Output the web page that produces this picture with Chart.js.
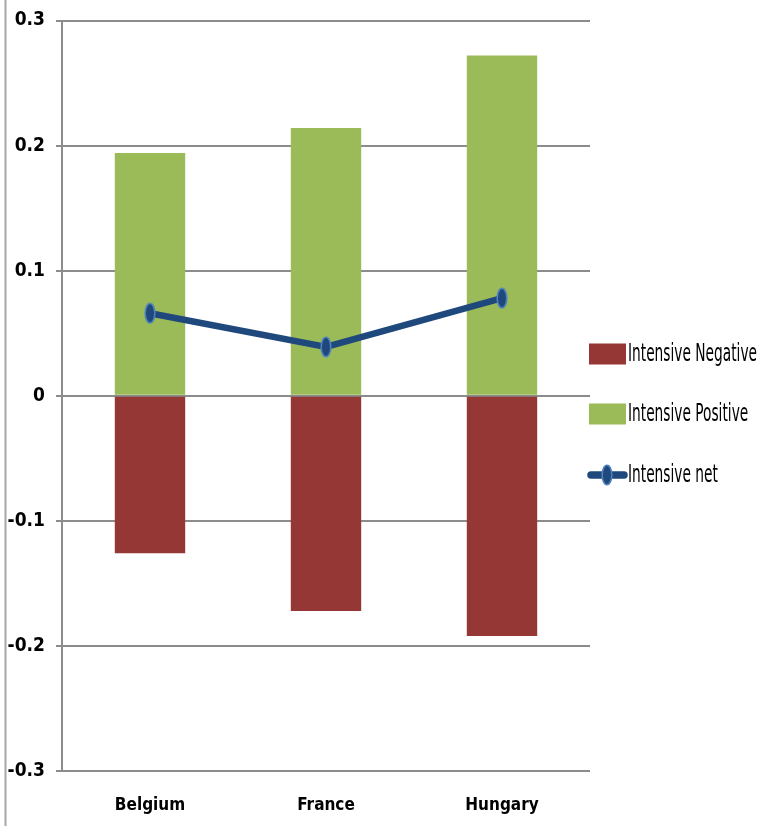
<!DOCTYPE html>
<html>
<head>
<meta charset="utf-8">
<script src="https://cdn.jsdelivr.net/npm/chart.js@4"></script>
<style>
  html, body { margin: 0; padding: 0; background: #fff; }
  #wrap { width: 762px; height: 826px; }
</style>
</head>
<body>
<div id="wrap"><canvas id="c" width="762" height="826"></canvas></div>
<script>
// Intensive margin decomposition by country
const countries = ['Belgium', 'France', 'Hungary'];
const intensiveNegative = [-0.126, -0.172, -0.192];
const intensivePositive = [0.194, 0.214, 0.272];
const intensiveNet = [0.066, 0.039, 0.078];
const yTicks = [-0.3, -0.2, -0.1, 0, 0.1, 0.2, 0.3];

const FONT = "'DejaVu Sans Condensed', 'Liberation Sans Narrow', Lato, sans-serif";
const RED = '#953735';
const GREEN = '#9BBB59';
const NAVY = '#1F497D';
const NAVY_EDGE = '#4F81BD';
const GRID = '#8c8c8c';

// Oval marker used for the net series and its legend entry
function ovalMarker() {
  const cv = document.createElement('canvas');
  cv.width = 12; cv.height = 22;
  const g = cv.getContext('2d');
  g.beginPath();
  g.ellipse(6, 11, 4.8, 9.8, 0, 0, Math.PI * 2);
  g.fillStyle = NAVY;
  g.fill();
  g.lineWidth = 1.6;
  g.strokeStyle = NAVY_EDGE;
  g.stroke();
  return cv;
}
const marker = ovalMarker();

// Frame line on the left edge and a legend to the right of the plot
const decorations = {
  id: 'decorations',
  beforeDraw(chart) {
    const ctx = chart.ctx;
    ctx.save();
    ctx.strokeStyle = '#a6a6a6';
    ctx.lineWidth = 2;
    ctx.beginPath();
    ctx.moveTo(5.5, 0);
    ctx.lineTo(5.5, chart.height);
    ctx.stroke();
    ctx.restore();
  },
  afterDraw(chart) {
    const ctx = chart.ctx;
    const x0 = chart.chartArea.right - 1;
    const mid = chart.height / 2;
    const rows = [
      { label: chart.data.datasets[0].label, y: mid - 59, kind: 'box', color: RED },
      { label: chart.data.datasets[1].label, y: mid + 1, kind: 'box', color: GREEN },
      { label: chart.data.datasets[2].label, y: mid + 62, kind: 'line', color: NAVY }
    ];
    ctx.save();
    ctx.font = '24px ' + FONT;
    ctx.textBaseline = 'middle';
    // narrow the legend text so the longest entry fits beside the plot
    const sx = 129 / ctx.measureText(rows[0].label).width;
    rows.forEach(r => {
      if (r.kind === 'box') {
        ctx.fillStyle = r.color;
        ctx.fillRect(x0, r.y - 10.5, 37, 21);
      } else {
        ctx.strokeStyle = r.color;
        ctx.lineWidth = 7.5;
        ctx.lineCap = 'round';
        ctx.beginPath();
        ctx.moveTo(x0 + 2, r.y);
        ctx.lineTo(x0 + 35, r.y);
        ctx.stroke();
        ctx.drawImage(marker, x0 + 18 - 6, r.y - 11);
      }
      ctx.save();
      ctx.translate(x0 + 39, r.y + 1);
      ctx.scale(sx, 1);
      ctx.fillStyle = '#000';
      ctx.fillText(r.label, 0, 0);
      ctx.restore();
    });
    ctx.restore();
  }
};

new Chart(document.getElementById('c'), {
  type: 'bar',
  data: {
    labels: countries,
    datasets: [
      {
        label: 'Intensive Negative',
        data: intensiveNegative,
        backgroundColor: RED,
        stack: 'bars',
        order: 2,
        categoryPercentage: 1,
        barPercentage: 0.4
      },
      {
        label: 'Intensive Positive',
        data: intensivePositive,
        backgroundColor: GREEN,
        stack: 'bars',
        order: 2,
        categoryPercentage: 1,
        barPercentage: 0.4
      },
      {
        type: 'line',
        label: 'Intensive net',
        data: intensiveNet,
        borderColor: NAVY,
        borderWidth: 6.5,
        pointStyle: marker,
        pointRadius: 6,
        stack: 'net',
        order: 0,
        tension: 0
      }
    ]
  },
  options: {
    responsive: false,
    animation: false,
    layout: { padding: { top: 20, right: 172, left: 0, bottom: 0 } },
    plugins: {
      legend: { display: false },
      tooltip: { enabled: false }
    },
    scales: {
      x: {
        stacked: true,
        grid: { display: false, drawTicks: false },
        border: { display: false },
        ticks: {
          color: '#000',
          padding: 24,
          font: { family: FONT, size: 17, weight: 'bold' }
        },
        afterFit(scale) { scale.height = 55; }
      },
      y: {
        stacked: true,
        min: -0.3,
        max: 0.3,
        afterBuildTicks(scale) { scale.ticks = yTicks.map(v => ({ value: v })); },
        grid: { color: GRID, lineWidth: 2, tickLength: 6 },
        border: { color: GRID, width: 2 },
        ticks: {
          color: '#000',
          padding: 11,
          font: { family: FONT, size: 19, weight: 'bold', lineHeight: 1 },
          callback: v => (Math.abs(v) < 1e-9 ? '0' : v.toFixed(1))
        },
        afterFit(scale) { scale.width = 62; }
      }
    }
  },
  plugins: [decorations]
});
</script>
</body>
</html>
